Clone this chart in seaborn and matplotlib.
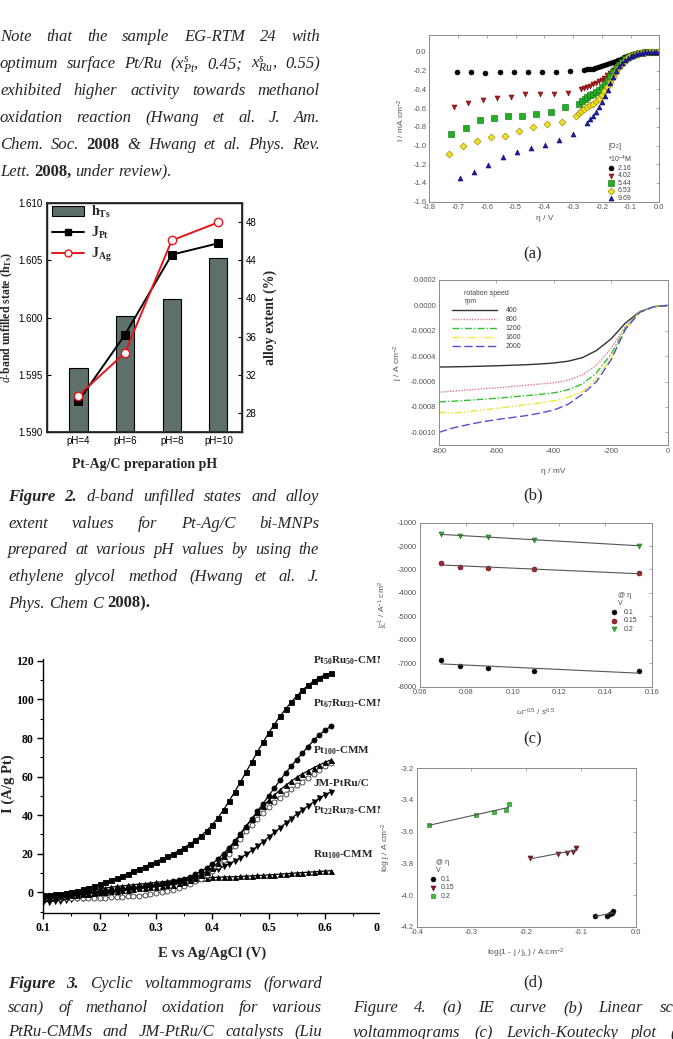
import numpy as np
import pandas as pd
import matplotlib
matplotlib.use("Agg")
import matplotlib.pyplot as plt
import seaborn as sns
from matplotlib.patches import Rectangle, Patch
from matplotlib.lines import Line2D
import matplotlib.ticker as mticker

# ---------------- data ----------------
# Figure 2
ph_labels = ["pH=4", "pH=6", "pH=8", "pH=10"]
h_ts = [1.5956, 1.6001, 1.6016, 1.6052]
j_pt = [29.2, 36.2, 44.6, 45.8]
j_ag = [29.8, 34.3, 46.1, 48.0]

# Figure 3
E = [0.10, 0.11, 0.12, 0.13, 0.14, 0.15, 0.16, 0.17, 0.18, 0.19,
     0.20, 0.21, 0.22, 0.23, 0.24, 0.25, 0.26, 0.27, 0.28, 0.29,
     0.30, 0.31, 0.32, 0.33, 0.34, 0.35, 0.36, 0.37, 0.38, 0.39,
     0.40, 0.41, 0.42, 0.43, 0.44, 0.45, 0.46, 0.47, 0.48, 0.49,
     0.50, 0.51, 0.52, 0.53, 0.54, 0.55, 0.56, 0.57, 0.58, 0.59,
     0.60, 0.61]
pt50ru50 = [-1.6, -1.4, -1.1, -0.8, -0.3, 0.3, 0.9, 1.6, 2.4, 3.3,
            4.2, 5.2, 6.3, 7.4, 8.5, 9.7, 10.9, 12.1, 13.3, 14.6,
            15.9, 17.2, 18.6, 20.0, 21.5, 23.2, 25.0, 27.0, 29.3, 32.0,
            35.0, 38.6, 42.8, 47.4, 52.2, 57.2, 62.4, 67.6, 72.8, 77.8,
            82.6, 87.0, 91.2, 95.0, 98.6, 101.8, 104.8, 107.4, 109.6, 111.4,
            112.8, 113.6]
pt67ru33 = [-2.0, -1.9, -1.7, -1.5, -1.2, -0.9, -0.6, -0.3, 0.0, 0.3,
            0.6, 0.9, 1.2, 1.5, 1.8, 2.1, 2.4, 2.8, 3.2, 3.6,
            4.0, 4.5, 5.0, 5.6, 6.3, 7.1, 8.1, 9.3, 10.8, 12.6,
            14.8, 17.3, 20.1, 23.2, 26.6, 30.2, 34.0, 38.0, 42.0, 46.0,
            50.0, 54.0, 58.0, 61.8, 65.4, 68.8, 72.2, 75.6, 78.8, 81.6,
            84.0, 86.0]
pt100 = [-2.5, -2.4, -2.3, -2.1, -1.9, -1.6, -1.3, -1.0, -0.7, -0.4,
         -0.1, 0.2, 0.5, 0.8, 1.1, 1.4, 1.7, 2.0, 2.3, 2.6,
         2.9, 3.2, 3.6, 4.0, 4.6, 5.4, 6.4, 7.6, 9.0, 10.7,
         12.8, 15.4, 18.6, 22.2, 26.2, 30.4, 34.4, 38.0, 41.4, 44.6,
         47.6, 50.4, 53.0, 55.4, 57.6, 59.6, 61.4, 63.0, 64.6, 66.0,
         67.4, 68.6]
jm_ptru = [-3.2, -3.2, -3.2, -3.2, -3.2, -3.1, -3.1, -3.0, -3.0, -2.9,
           -2.9, -2.8, -2.7, -2.6, -2.4, -2.2, -2.0, -1.7, -1.3, -0.9,
           -0.4, 0.1, 0.7, 1.4, 2.2, 3.2, 4.3, 5.6, 7.1, 8.9,
           11.0, 13.6, 16.6, 20.0, 23.8, 27.8, 31.6, 35.0, 38.2, 41.2,
           44.0, 46.6, 49.0, 51.2, 53.4, 55.4, 57.4, 59.4, 61.4, 63.4,
           65.4, 67.2]
pt22ru78 = [-5.0, -4.8, -4.6, -4.3, -4.0, -3.6, -3.2, -2.8, -2.3, -1.8,
            -1.3, -0.8, -0.3, 0.2, 0.7, 1.2, 1.6, 2.0, 2.4, 2.8,
            3.2, 3.6, 4.1, 4.6, 5.2, 5.9, 6.7, 7.6, 8.6, 9.7,
            10.9, 12.1, 13.4, 14.8, 16.3, 17.9, 19.7, 21.7, 23.9, 26.2,
            28.6, 31.0, 33.4, 35.8, 38.2, 40.6, 42.8, 44.8, 46.8, 48.8,
            50.6, 52.0]
ru100 = [-1.5, -1.3, -1.1, -0.8, -0.5, -0.2, 0.2, 0.6, 1.0, 1.4,
         1.8, 2.2, 2.6, 3.0, 3.3, 3.6, 3.9, 4.2, 4.5, 4.8,
         5.1, 5.4, 5.7, 6.0, 6.3, 6.6, 6.9, 7.1, 7.3, 7.5,
         7.7, 7.8, 7.9, 8.0, 8.1, 8.2, 8.4, 8.5, 8.7, 8.8,
         9.0, 9.2, 9.4, 9.6, 9.8, 10.0, 10.2, 10.4, 10.6, 10.8,
         11.0, 11.2]

# Figure 4 (a)
a216_x = [-0.705, -0.655, -0.605, -0.555, -0.506, -0.457, -0.408, -0.359, -0.310,
          -0.262, -0.252, -0.242, -0.232, -0.222, -0.212, -0.202, -0.192, -0.182, -0.172,
          -0.162, -0.152, -0.142, -0.132, -0.122, -0.112, -0.102, -0.092, -0.082, -0.072,
          -0.062, -0.052, -0.042, -0.032, -0.022, -0.012, -0.004]
a216_y = [-0.219, -0.215, -0.225, -0.215, -0.210, -0.210, -0.210, -0.210, -0.205,
          -0.190, -0.188, -0.184, -0.179, -0.172, -0.164, -0.155, -0.145, -0.134, -0.122,
          -0.110, -0.097, -0.084, -0.071, -0.058, -0.046, -0.036, -0.027, -0.019, -0.013,
          -0.008, -0.005, -0.003, -0.002, -0.001, -0.001, 0.0]
a402_x = [-0.713, -0.664, -0.614, -0.564, -0.515, -0.466, -0.416, -0.368, -0.318,
          -0.271, -0.261, -0.251, -0.241, -0.231, -0.221, -0.211, -0.201, -0.191, -0.181,
          -0.171, -0.161, -0.151, -0.141, -0.131, -0.121, -0.111, -0.101, -0.091, -0.081,
          -0.071, -0.061, -0.051, -0.041, -0.031, -0.021, -0.011, -0.003]
a402_y = [-0.592, -0.545, -0.513, -0.490, -0.477, -0.452, -0.452, -0.452, -0.441,
          -0.398, -0.388, -0.375, -0.362, -0.348, -0.333, -0.316, -0.297, -0.275, -0.250,
          -0.222, -0.192, -0.162, -0.132, -0.104, -0.080, -0.060, -0.044, -0.031, -0.021,
          -0.014, -0.009, -0.005, -0.003, -0.002, -0.001, 0.0, 0.0]
a544_x = [-0.723, -0.674, -0.624, -0.576, -0.526, -0.477, -0.428, -0.378, -0.329,
          -0.280, -0.270, -0.260, -0.250, -0.240, -0.230, -0.220, -0.210, -0.200, -0.190,
          -0.180, -0.170, -0.160, -0.150, -0.140, -0.130, -0.120, -0.110, -0.100, -0.090,
          -0.080, -0.070, -0.060, -0.050, -0.040, -0.030, -0.020, -0.010, -0.002]
a544_y = [-0.872, -0.811, -0.728, -0.707, -0.689, -0.685, -0.664, -0.646, -0.585,
          -0.555, -0.525, -0.502, -0.482, -0.463, -0.446, -0.428, -0.404, -0.374, -0.338,
          -0.298, -0.256, -0.214, -0.174, -0.138, -0.106, -0.080, -0.059, -0.043, -0.031,
          -0.022, -0.015, -0.010, -0.006, -0.004, -0.002, -0.001, 0.0, 0.0]
a653_x = [-0.733, -0.684, -0.634, -0.586, -0.537, -0.487, -0.438, -0.389, -0.339,
          -0.291, -0.281, -0.271, -0.261, -0.251, -0.241, -0.231, -0.221, -0.211, -0.201,
          -0.191, -0.181, -0.171, -0.161, -0.151, -0.141, -0.131, -0.121, -0.111, -0.101,
          -0.091, -0.081, -0.071, -0.061, -0.051, -0.041, -0.031, -0.021, -0.011, -0.003]
a653_y = [-1.087, -1.001, -0.954, -0.908, -0.900, -0.850, -0.800, -0.771, -0.746,
          -0.680, -0.655, -0.632, -0.612, -0.592, -0.572, -0.552, -0.528, -0.500, -0.464,
          -0.420, -0.370, -0.318, -0.264, -0.212, -0.166, -0.126, -0.094, -0.068, -0.049,
          -0.035, -0.024, -0.016, -0.011, -0.007, -0.004, -0.002, -0.001, 0.0, 0.0]
a969_x = [-0.694, -0.645, -0.595, -0.545, -0.495, -0.447, -0.398, -0.348, -0.300,
          -0.250, -0.240, -0.230, -0.220, -0.210, -0.200, -0.190, -0.180, -0.170, -0.160,
          -0.150, -0.140, -0.130, -0.120, -0.110, -0.100, -0.090, -0.080, -0.070, -0.060,
          -0.050, -0.040, -0.030, -0.020, -0.010, -0.002]
a969_y = [-1.342, -1.284, -1.205, -1.119, -1.065, -1.026, -0.990, -0.944, -0.872,
          -0.757, -0.722, -0.684, -0.640, -0.590, -0.534, -0.472, -0.404, -0.334, -0.266,
          -0.206, -0.156, -0.116, -0.085, -0.062, -0.045, -0.032, -0.022, -0.015, -0.010,
          -0.006, -0.004, -0.002, -0.001, 0.0, 0.0]

# Figure 4 (b)
b_eta = [-800, -750, -700, -650, -600, -550, -500, -450, -400, -350, -300, -250, -200, -150, -100, -50, 0]
b_400 = [-0.000486, -0.000484, -0.000482, -0.000479, -0.000476, -0.000472, -0.000468, -0.000462, -0.000454,
         -0.000440, -0.000412, -0.000355, -0.000265, -0.000140, -0.000050, -0.000010, 0.0]
b_800 = [-0.000684, -0.000675, -0.000666, -0.000658, -0.000650, -0.000640, -0.000630, -0.000620, -0.000610,
         -0.000590, -0.000548, -0.000470, -0.000340, -0.000165, -0.000052, -0.000010, 0.0]
b_1200 = [-0.000760, -0.000755, -0.000748, -0.000740, -0.000732, -0.000722, -0.000712, -0.000702, -0.000690,
          -0.000665, -0.000620, -0.000530, -0.000385, -0.000180, -0.000052, -0.000010, 0.0]
b_1600 = [-0.000842, -0.000848, -0.000838, -0.000825, -0.000812, -0.000798, -0.000784, -0.000770, -0.000752,
          -0.000725, -0.000680, -0.000575, -0.000415, -0.000190, -0.000053, -0.000010, 0.0]
b_2000 = [-0.001000, -0.000965, -0.000940, -0.000918, -0.000900, -0.000885, -0.000870, -0.000850, -0.000825,
          -0.000780, -0.000700, -0.000600, -0.000430, -0.000190, -0.000055, -0.000010, 0.0]

# Figure 4 (c)
c_x = [0.0691, 0.0772, 0.0892, 0.1093, 0.1545]
c_01 = [-6876, -7104, -7190, -7333, -7347]
c_015 = [-2737, -2879, -2936, -2993, -3164]
c_02 = [-1490, -1560, -1610, -1750, -1980]

# Figure 4 (d)
d_x01 = [-0.0743, -0.0530, -0.0470, -0.0440, -0.0408]
d_y01 = [-4.131, -4.131, -4.120, -4.114, -4.103]
d_x015 = [-0.1924, -0.1425, -0.1248, -0.1139, -0.1084]
d_y015 = [-3.768, -3.743, -3.735, -3.726, -3.701]
d_x02 = [-0.3775, -0.2922, -0.2588, -0.2374, -0.2320]
d_y02 = [-3.556, -3.497, -3.478, -3.463, -3.425]

# ---------------- style ----------------
sns.set_theme(style="white")
SERIF = ['Liberation Serif', 'DejaVu Serif']
SANS = ['Liberation Sans', 'DejaVu Sans']
plt.rcParams['font.family'] = SERIF
plt.rcParams['mathtext.fontset'] = 'custom'
plt.rcParams['mathtext.rm'] = 'Liberation Serif'
plt.rcParams['mathtext.it'] = 'Liberation Serif:italic'
plt.rcParams['mathtext.bf'] = 'Liberation Serif:bold'
plt.rcParams['mathtext.sf'] = 'Liberation Sans'
plt.rcParams['axes.unicode_minus'] = False

W, H = 673, 1039
fig = plt.figure(figsize=(W / 100, H / 100), dpi=100)
fig.patch.set_facecolor('white')


def box(l, t, r, b):
    return [l / W, 1 - b / H, (r - l) / W, (b - t) / H]


def fxy(px, py):
    return (px / W, 1 - py / H)


def fmt(v, d):
    if abs(v) < 1e-12:
        v = 0.0
    return f"{v:.{d}f}"


renderer = fig.canvas.get_renderer()


def para(lines, x0, x1, y0, dy, size=12, last_left=True):
    for i, line in enumerate(lines):
        yb = y0 + i * dy + 4.5
        objs = []
        for w in line.split(' '):
            kw = dict(fontsize=size, style='italic', family=SERIF)
            if w.startswith('!'):
                w = w[1:]
                kw['weight'] = 'bold'
            elif w.startswith('#'):
                w = w[1:]
                kw['weight'] = 'bold'
                kw['style'] = 'normal'
            t = fig.text(0, 1 - yb / H, w, va='baseline', ha='left', zorder=5, **kw)
            objs.append(t)
        widths = [t.get_window_extent(renderer).width for t in objs]
        if (last_left and i == len(lines) - 1) or len(objs) == 1:
            gap = size * 100 / 72 * 0.25
        else:
            gap = (x1 - x0 - sum(widths)) / (len(objs) - 1)
        x = x0
        for t, wd in zip(objs, widths):
            t.set_x(x / W)
            x += wd + gap


# ---------------- body text ----------------
para(["Note that the sample EG-RTM 24 with",
      "optimum surface Pt/Ru (x$_{Pt}^{s}$, 0.45; x$_{Ru}^{s}$, 0.55)",
      "exhibited higher activity towards methanol",
      "oxidation reaction (Hwang et al. J. Am.",
      "Chem. Soc. #2008 & Hwang et al. Phys. Rev.",
      "Lett. #2008, under review)."], 0, 320, 36.7, 27.0)

para(["!Figure !2. d-band unfilled states and alloy",
      "extent values for Pt-Ag/C bi-MNPs",
      "prepared at various pH values by using the",
      "ethylene glycol method (Hwang et al. J.",
      "Phys. Chem C #2008)."], 8, 319, 496.7, 26.6)

para(["!Figure !3. Cyclic voltammograms (forward",
      "scan) of methanol oxidation for various",
      "PtRu-CMMs and JM-PtRu/C catalysts (Liu"], 8, 322, 983, 24.5, last_left=False)

para(["Figure 4. (a) IE curve (b) Linear scan",
      "voltammograms (c) Levich-Koutecky plot (d)"], 353, 690, 1008, 24.5, last_left=False)

for lab, yy in [("(a)", 254), ("(b)", 495), ("(c)", 739), ("(d)", 982)]:
    fig.text(533 / W, 1 - yy / H, lab, fontsize=12, ha='center', va='center', family=SERIF, zorder=5)

# ---------------- Figure 2 ----------------
bar_color = '#5d706a'
ax2 = fig.add_axes(box(46.7, 203.3, 241.7, 431.7))
df2 = pd.DataFrame({'pH': ph_labels, 'h': h_ts})
sns.barplot(data=df2, x='pH', y='h', color=bar_color, saturation=1, edgecolor='black',
            linewidth=0.8, width=0.39, ax=ax2)
ax2.set_ylim(1.590, 1.610)
ax2.set_xlim(-0.68, 3.5)
yt2 = [1.590, 1.595, 1.600, 1.605, 1.610]
ax2.set_yticks(yt2, [fmt(v, 3) for v in yt2], fontfamily=SANS, fontsize=7)
ax2.set_xticks([0, 1, 2, 3], ph_labels, fontfamily=SANS, fontsize=7)
ax2.tick_params(direction='in', length=3, width=0.8, colors='black', pad=3)
ax2.tick_params(axis='x', length=0)
for s in ax2.spines.values():
    s.set_color('black')
    s.set_linewidth(1.0)
ax2.set_xlabel("Pt-Ag/C preparation pH", fontsize=10, fontweight='bold')
ax2.xaxis.set_label_coords(0.5, -0.115)
ax2.set_ylabel(r"$\it{d}$-band unfilled state (h$_{\mathbf{Ts}}$)", fontsize=8.5, fontweight='bold')
ax2.yaxis.set_label_coords(-0.165, 0.5)

ax2r = ax2.twinx()
pos = [0, 1, 2, 3]
sns.lineplot(x=pos, y=j_pt, color='black', lw=1.4, marker='s', markersize=6,
             markerfacecolor='black', markeredgecolor='black', ax=ax2r)
sns.lineplot(x=pos, y=j_ag, color='#e8141c', lw=1.4, marker='o', markersize=6,
             markerfacecolor='white', markeredgecolor='#e8141c', markeredgewidth=1.0, ax=ax2r)
ax2r.set_ylim(26, 50)
yt2r = [28, 32, 36, 40, 44, 48]
ax2r.set_yticks(yt2r, [str(v) for v in yt2r], fontfamily=SANS, fontsize=7)
ax2r.tick_params(direction='in', length=3, width=0.8, colors='black', pad=3)
ax2r.set_ylabel("alloy extent (%)", fontsize=10, fontweight='bold')
ax2r.yaxis.set_label_coords(1.11, 0.5)
h2 = [Patch(facecolor=bar_color, edgecolor='black', linewidth=0.8),
      Line2D([], [], color='black', lw=1.4, marker='s', markersize=5),
      Line2D([], [], color='#e8141c', lw=1.4, marker='o', markersize=5, markerfacecolor='white')]
l2 = [r"h$_{\mathbf{Ts}}$", r"J$_{\mathbf{Pt}}$", r"J$_{\mathbf{Ag}}$"]
ax2r.legend(h2, l2, loc='upper left', bbox_to_anchor=fxy(52, 204), bbox_transform=fig.transFigure,
            frameon=False, prop={'family': SERIF, 'weight': 'bold', 'size': 10},
            handlelength=2.3, handletextpad=0.5, labelspacing=0.35, borderpad=0, borderaxespad=0)

# ---------------- Figure 3 ----------------
ax3 = fig.add_axes(box(43.3, 659.0, 381.3, 912.5))
ax3.set_zorder(0)
series3 = [
    (pt22ru78, 'v', 'black', 'black', 0.9),
    (ru100, '^', 'black', 'black', 0.9),
    (jm_ptru, 'o', 'white', '#333333', 0.6),
    (pt100, '^', 'black', 'black', 0.9),
    (pt67ru33, 'o', 'black', 'black', 0.9),
    (pt50ru50, 's', 'black', 'black', 0.9),
]
for yv, mk, fc, ec, lw in series3:
    sns.lineplot(x=E, y=yv, color=('#555555' if fc == 'white' else 'black'), lw=lw, marker=mk,
                 markersize=3.6, markerfacecolor=fc, markeredgecolor=ec, markeredgewidth=0.6, ax=ax3)
ax3.set_xlim(0.1, 0.7)
ax3.set_ylim(-10.5, 121)
xt3 = [0.1, 0.2, 0.3, 0.4, 0.5, 0.6, 0.7]
ax3.set_xticks(xt3, [fmt(v, 1) for v in xt3], fontweight='bold', fontsize=8.5)
yt3 = [0, 20, 40, 60, 80, 100, 120]
ax3.set_yticks(yt3, [str(v) for v in yt3], fontweight='bold', fontsize=8.5)
ax3.xaxis.set_minor_locator(mticker.MultipleLocator(0.05))
ax3.yaxis.set_minor_locator(mticker.MultipleLocator(10))
ax3.tick_params(which='major', direction='out', length=4, width=1.0, colors='black', pad=3)
ax3.tick_params(which='minor', direction='out', length=2, width=0.8, colors='black')
ax3.tick_params(which='both', bottom=True, left=True)
ax3.spines['top'].set_visible(False)
ax3.spines['right'].set_visible(False)
for s in ['left', 'bottom']:
    ax3.spines[s].set_color('black')
    ax3.spines[s].set_linewidth(1.0)
ax3.set_xlabel("E vs Ag/AgCl (V)", fontsize=10.5, fontweight='bold')
ax3.xaxis.set_label_coords(0.5, -0.135)
ax3.set_ylabel("I (A/g Pt)", fontsize=10.5, fontweight='bold')
ax3.yaxis.set_label_coords(-0.084, 0.51)
labels3 = [(r"Pt$_{\mathbf{50}}$Ru$_{\mathbf{50}}$-CMM", 661),
           (r"Pt$_{\mathbf{67}}$Ru$_{\mathbf{33}}$-CMM", 704),
           (r"Pt$_{\mathbf{100}}$-CMM", 751),
           ("JM-PtRu/C", 784),
           (r"Pt$_{\mathbf{22}}$Ru$_{\mathbf{78}}$-CMM", 811),
           (r"Ru$_{\mathbf{100}}$-CMM", 855)]
for s, py in labels3:
    ax3.text(313 / W, 1 - py / H, s, transform=fig.transFigure, fontsize=8, fontweight='bold',
             ha='left', va='center', zorder=0.5)

# white cover (right column images overlapping figure 3)
cover = Rectangle((380 / W, 1 - 962 / H), (W - 380) / W, (962 - 505) / H, transform=fig.transFigure,
                  facecolor='white', edgecolor='none', zorder=1)
fig.add_artist(cover)


def panel_style(ax, xt, xl, yt, yl):
    ax.set_xticks(xt, xl, fontfamily=SANS, fontsize=5.5, color='#555555')
    ax.set_yticks(yt, yl, fontfamily=SANS, fontsize=5.5, color='#555555')
    for s in ax.spines.values():
        s.set_color('#8a8a8a')
        s.set_linewidth(0.7)
    ax.tick_params(direction='in', length=2.5, width=0.5, color='#8a8a8a', top=True, right=True, pad=2)
    ax.set_zorder(2)


# ---------------- Figure 4 (a) ----------------
axa = fig.add_axes(box(429.3, 35.0, 659.3, 201.7))
a_series = [
    (a216_x, a216_y, 'o', 'black', 'black', '2.16'),
    (a402_x, a402_y, 'v', '#b01c1c', '#6a0d0d', '4.02'),
    (a544_x, a544_y, 's', '#22b022', '#116611', '5.44'),
    (a653_x, a653_y, 'D', '#f0e020', '#8a7a10', '6.53'),
    (a969_x, a969_y, '^', '#1c1ca8', '#0c0c60', '9.69'),
]
for xs, ys, mk, fc, ec, lab in a_series:
    sns.scatterplot(x=xs, y=ys, marker=mk, color=fc, edgecolor=ec, linewidth=0.4, s=13, label=lab, ax=axa)
axa.set_xlim(-0.8, 0.0)
axa.set_ylim(-1.6, 0.18)
xta = [-0.8, -0.7, -0.6, -0.5, -0.4, -0.3, -0.2, -0.1, 0.0]
yta = [-1.6, -1.4, -1.2, -1.0, -0.8, -0.6, -0.4, -0.2, 0.0]
panel_style(axa, xta, [fmt(v, 1) for v in xta], yta, [fmt(v, 1) for v in yta])
axa.set_xlabel("η / V", fontsize=6, family=SANS, color='#555555')
axa.xaxis.set_label_coords(0.5, -0.08)
axa.set_ylabel(r"I / mA cm$^{\mathsf{-2}}$", fontsize=6, family=SANS, color='#555555')
axa.yaxis.set_label_coords(-0.097, 0.49)
lga = axa.legend(title="[O$_{\\mathsf{2}}$]\n*10$^{\\mathsf{-4}}$M", loc='upper left',
                 bbox_to_anchor=fxy(608, 141), bbox_transform=fig.transFigure, frameon=False,
                 prop={'family': SANS, 'size': 5}, title_fontproperties={'family': SANS, 'size': 5},
                 handlelength=0.8, handletextpad=0.6, labelspacing=0.08, borderpad=0, borderaxespad=0)
for t in lga.get_texts():
    t.set_color('#444444')
lga.get_title().set_color('#444444')

# ---------------- Figure 4 (b) ----------------
axb = fig.add_axes(box(439.0, 280.0, 668.3, 445.0))
b_series = [
    (b_400, '#333333', '-', '400'),
    (b_800, '#e87888', (0, (1, 1)), '800'),
    (b_1200, '#30c030', (0, (5, 1.5, 1, 1.5)), '1200'),
    (b_1600, '#e8e830', (0, (5, 1.5, 1, 1.5, 1, 1.5)), '1600'),
    (b_2000, '#5050d0', (0, (6, 2.5)), '2000'),
]
for ys, col, ls, lab in b_series:
    sns.lineplot(x=b_eta, y=ys, color=col, linestyle=ls, lw=1.0, label=lab, ax=axb)
axb.set_xlim(-800, 0)
axb.set_ylim(-0.0011, 0.0002)
xtb = [-800, -600, -400, -200, 0]
ytb = [-0.0010, -0.0008, -0.0006, -0.0004, -0.0002, 0.0, 0.0002]
panel_style(axb, xtb, [str(v) for v in xtb], ytb, [fmt(v, 4) for v in ytb])
axb.set_xlabel("η / mV", fontsize=6, family=SANS, color='#555555')
axb.xaxis.set_label_coords(0.5, -0.141)
axb.set_ylabel(r"j / A cm$^{\mathsf{-2}}$", fontsize=6, family=SANS, color='#555555')
axb.yaxis.set_label_coords(-0.148, 0.5)
lgb = axb.legend(title="rotation speed\nrpm", loc='upper left',
                 bbox_to_anchor=fxy(452, 290), bbox_transform=fig.transFigure, frameon=False,
                 prop={'family': SANS, 'size': 5}, title_fontproperties={'family': SANS, 'size': 5},
                 handlelength=6.5, handletextpad=1.2, labelspacing=0.3, borderpad=0, borderaxespad=0)
for t in lgb.get_texts():
    t.set_color('#444444')
lgb.get_title().set_color('#444444')

# ---------------- Figure 4 (c) ----------------
axc = fig.add_axes(box(420.0, 522.6, 651.7, 686.7))
for ys in (c_01, c_015, c_02):
    sns.regplot(x=c_x, y=ys, scatter=False, ci=None, color='#555555', line_kws={'lw': 0.8}, ax=axc)
sns.scatterplot(x=c_x, y=c_01, marker='o', color='black', edgecolor='#222222', linewidth=0.4, s=13, label='0.1', ax=axc)
sns.scatterplot(x=c_x, y=c_015, marker='o', color='#a8202a', edgecolor='#601010', linewidth=0.4, s=13, label='0.15', ax=axc)
sns.scatterplot(x=c_x, y=c_02, marker='v', color='#30b030', edgecolor='#1a701a', linewidth=0.4, s=13, label='0.2', ax=axc)
axc.set_xlim(0.06, 0.16)
axc.set_ylim(-8000, -1000)
xtc = [0.06, 0.08, 0.10, 0.12, 0.14, 0.16]
ytc = [-8000, -7000, -6000, -5000, -4000, -3000, -2000, -1000]
panel_style(axc, xtc, [fmt(v, 2) for v in xtc], ytc, [str(v) for v in ytc])
axc.set_xlabel(r"ω$^{\mathsf{-0.5}}$ / s$^{\mathsf{0.5}}$", fontsize=6, family=SANS, color='#555555')
axc.xaxis.set_label_coords(0.5, -0.124)
axc.set_ylabel(r"j$_{\mathsf{L}}^{\mathsf{-1}}$ / A$^{\mathsf{-1}}$ cm$^{\mathsf{2}}$", fontsize=6, family=SANS, color='#555555')
axc.yaxis.set_label_coords(-0.13, 0.5)
lgc = axc.legend(title="@ η\nV", loc='upper left',
                 bbox_to_anchor=fxy(611, 592), bbox_transform=fig.transFigure, frameon=False,
                 prop={'family': SANS, 'size': 5}, title_fontproperties={'family': SANS, 'size': 5},
                 handlelength=0.8, handletextpad=1.0, labelspacing=0.25, borderpad=0, borderaxespad=0)
for t in lgc.get_texts():
    t.set_color('#444444')
lgc.get_title().set_color('#444444')

# ---------------- Figure 4 (d) ----------------
axd = fig.add_axes(box(416.7, 768.3, 635.7, 926.7))
for xs, ys in ((d_x01, d_y01), (d_x015, d_y015), (d_x02, d_y02)):
    sns.regplot(x=xs, y=ys, scatter=False, ci=None, color='#555555', line_kws={'lw': 0.8}, ax=axd)
sns.scatterplot(x=d_x01, y=d_y01, marker='o', color='black', edgecolor='#222222', linewidth=0.4, s=13, label='0.1', ax=axd)
sns.scatterplot(x=d_x015, y=d_y015, marker='v', color='#8e1a1a', edgecolor='#501010', linewidth=0.4, s=13, label='0.15', ax=axd)
sns.scatterplot(x=d_x02, y=d_y02, marker='s', color='#38c038', edgecolor='#1a701a', linewidth=0.4, s=12, label='0.2', ax=axd)
axd.set_xlim(-0.4, 0.0)
axd.set_ylim(-4.2, -3.2)
xtd = [-0.4, -0.3, -0.2, -0.1, 0.0]
ytd = [-4.2, -4.0, -3.8, -3.6, -3.4, -3.2]
panel_style(axd, xtd, [fmt(v, 1) for v in xtd], ytd, [fmt(v, 1) for v in ytd])
axd.set_xlabel(r"log(1 - j / j$_{\mathsf{L}}$) / A cm$^{\mathsf{-2}}$", fontsize=6, family=SANS, color='#555555')
axd.xaxis.set_label_coords(0.5, -0.128)
axd.set_ylabel(r"log j / A cm$^{\mathsf{-2}}$", fontsize=6, family=SANS, color='#555555')
axd.yaxis.set_label_coords(-0.108, 0.5)
lgd = axd.legend(title="@ η\nV", loc='upper left',
                 bbox_to_anchor=fxy(430, 859), bbox_transform=fig.transFigure, frameon=False,
                 prop={'family': SANS, 'size': 5}, title_fontproperties={'family': SANS, 'size': 5},
                 handlelength=0.8, handletextpad=0.8, labelspacing=0.25, borderpad=0, borderaxespad=0)
for t in lgd.get_texts():
    t.set_color('#444444')
lgd.get_title().set_color('#444444')

fig.savefig("out.png", dpi=100, facecolor='white')
